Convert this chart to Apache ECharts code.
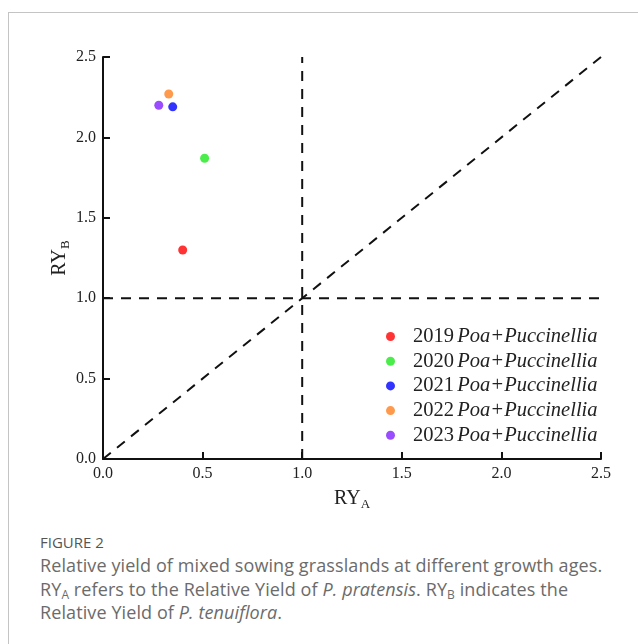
<!DOCTYPE html>
<html>
<head>
<meta charset="utf-8">
<script src="https://cdn.jsdelivr.net/npm/echarts@6/dist/echarts.min.js"></script>
<style>
  html, body { margin: 0; padding: 0; background: #fff; }
  body { width: 638px; height: 644px; position: relative; overflow: hidden; }
  #frame { position: absolute; left: 8px; top: 12px; width: 700px; height: 700px;
           border-left: 1px solid #c4c4c4; border-top: 1px solid #c4c4c4; }
  #chart { position: absolute; left: 0; top: 0; width: 638px; height: 520px; }
  #caption { position: absolute; left: 40px; top: 532px; width: 600px;
             font-family: "Open Sans", sans-serif; color: #6b6b6b; }
  #caption .fig { font-size: 15px; color: #555; line-height: 20px; margin-bottom: 2px; }
  #caption .txt { font-size: 18px; line-height: 23.5px; white-space: nowrap; letter-spacing: 0.1px; }
  sub { font-size: 12px; vertical-align: -3px; line-height: 0; }
</style>
</head>
<body>
<div id="frame"></div>
<div id="chart"></div>
<div id="caption">
  <div class="fig">FIGURE 2</div>
  <div class="txt">Relative yield of mixed sowing grasslands at different growth ages.<br>
  RY<sub>A</sub> refers to the Relative Yield of <i>P. pratensis</i>. RY<sub>B</sub> indicates the<br>
  Relative Yield of <i>P. tenuiflora</i>.</div>
</div>
<script>
// Years of the mixed sowing and their relative yields (RY_A, RY_B)
const years = ['2019', '2020', '2021', '2022', '2023'];
const ryA = [0.40, 0.51, 0.35, 0.33, 0.28];
const ryB = [1.30, 1.87, 2.19, 2.27, 2.20];
const colors = ['#ff0000', '#1ee81e', '#0000ff', '#ff7f1e', '#8020ff'];
const mixLabel = 'Poa+Puccinellia';

// Reference lines: RY = 1 for each species and the 1:1 diagonal
const vLine = [[1.0, 0], [1.0, 2.5]];
const hLine = [[0, 1.0], [2.5, 1.0]];
const diagLine = [[0, 0], [2.5, 2.5]];

const serif = '"Liberation Serif", "Times New Roman", serif';
const dash = { color: '#111', width: 2, type: [10, 8] };

const refSeries = [vLine, hLine, diagLine].map(d => ({
  type: 'line', data: d, symbol: 'none', silent: true,
  lineStyle: dash, z: 1, legendHoverLink: false
}));

const pointSeries = years.map((y, i) => ({
  name: y, type: 'scatter', data: [[ryA[i], ryB[i]]],
  symbol: 'circle', symbolSize: 9,
  itemStyle: { color: colors[i] }, z: 3
}));

const chart = echarts.init(document.getElementById('chart'));
const axisCommon = {
  type: 'value', min: 0, max: 2.5, interval: 0.5,
  splitLine: { show: false },
  axisLine: { show: true, lineStyle: { color: '#111', width: 2 } },
  axisTick: { show: true, inside: true, length: 7, lineStyle: { color: '#111', width: 2 } },
  axisLabel: { fontFamily: serif, fontSize: 16, color: '#222',
               formatter: v => v.toFixed(1) },
  nameLocation: 'middle',
  nameMoveOverlap: false,
  nameTextStyle: {
    fontFamily: serif, color: '#222',
    rich: {
      m: { fontFamily: serif, fontSize: 20, color: '#222' },
      s: { fontFamily: serif, fontSize: 13, color: '#222', padding: [11, 0, 0, 0] }
    }
  }
};

chart.setOption({
  animation: false,
  grid: { left: 103, top: 57, width: 498, height: 402, containLabel: false },
  xAxis: Object.assign({}, axisCommon, {
    name: '{m|RY}{s|A}', nameGap: 28,
    axisLabel: Object.assign({}, axisCommon.axisLabel, { margin: 7 })
  }),
  yAxis: Object.assign({}, axisCommon, {
    name: '{m|RY}{s|B}', nameGap: 31, nameRotate: 90,
    axisLabel: Object.assign({}, axisCommon.axisLabel, { margin: 7 })
  }),
  legend: {
    orient: 'vertical', left: 381, top: 321,
    data: years, icon: 'circle', itemWidth: 9, itemHeight: 9, itemGap: 3.7,
    formatter: n => '{n|' + n + '} {i|' + mixLabel + '}',
    textStyle: {
      rich: {
        n: { fontFamily: serif, fontSize: 20.5, color: '#222', lineHeight: 20 },
        i: { fontFamily: serif, fontSize: 20.5, fontStyle: 'italic', color: '#222', lineHeight: 20 }
      },
      padding: [0, 0, 0, 13]
    }
  },
  series: refSeries.concat(pointSeries)
});
</script>
</body>
</html>
